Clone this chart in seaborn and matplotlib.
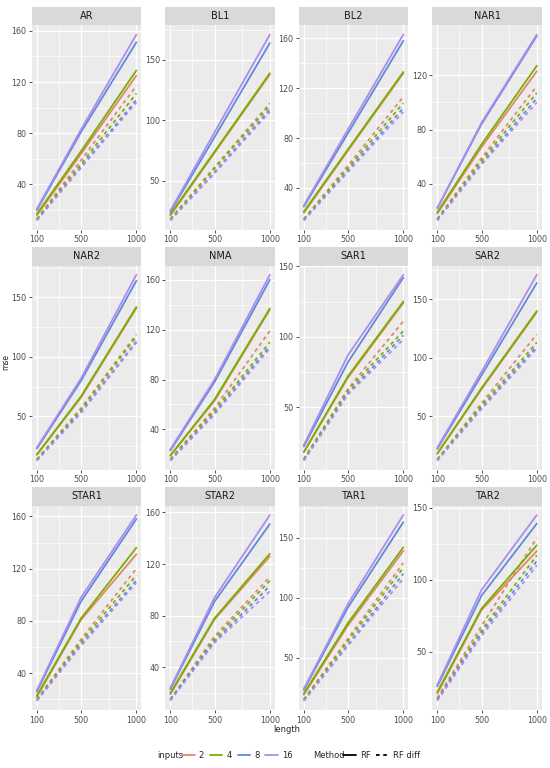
import matplotlib
matplotlib.use("Agg")
import matplotlib.pyplot as plt
from matplotlib.lines import Line2D
from matplotlib.patches import Rectangle
from matplotlib.ticker import MultipleLocator, FixedLocator
import seaborn as sns
import pandas as pd

# x values and categories
length = [100, 500, 1000]
inputs = ["2", "4", "8", "16"]
methods = ["RF", "RF diff"]
series = ["AR", "BL1", "BL2", "NAR1", "NAR2", "NMA",
          "SAR1", "SAR2", "STAR1", "STAR2", "TAR1", "TAR2"]

# mse, rows = inputs 2, 4, 8, 16
AR_RF = [[16, 64, 125], [17, 66, 129], [20, 81, 151], [21, 83, 157]]
AR_DIFF = [[13, 59, 117], [13, 56, 111], [12, 54, 106], [12, 53, 104]]
BL1_RF = [[21, 73, 138], [22, 74, 139], [24, 86, 164], [25, 90, 171]]
BL1_DIFF = [[18, 61, 114], [18, 60, 112], [17, 57, 109], [17, 56, 107]]
BL2_RF = [[20, 70, 132], [21, 71, 133], [25, 84, 158], [26, 87, 163]]
BL2_DIFF = [[15, 58, 113], [15, 56, 108], [14, 54, 104], [14, 53, 101]]
NAR1_RF = [[18, 67, 123], [19, 69, 127], [22, 84, 149], [22, 85, 150]]
NAR1_DIFF = [[14, 59, 112], [14, 57, 107], [13, 55, 103], [13, 54, 100]]
NAR2_RF = [[18, 66, 141], [18, 67, 142], [23, 80, 164], [24, 82, 169]]
NAR2_DIFF = [[14, 57, 119], [14, 56, 117], [13, 54, 113], [13, 53, 112]]
NMA_RF = [[19, 63, 136], [19, 64, 137], [23, 78, 160], [24, 80, 164]]
NMA_DIFF = [[16, 57, 119], [16, 55, 110], [15, 53, 107], [15, 52, 105]]
SAR1_RF = [[18, 71, 124], [18, 72, 125], [22, 82, 142], [23, 87, 144]]
SAR1_DIFF = [[13, 63, 111], [13, 62, 104], [12, 60, 101], [12, 59, 98]]
SAR2_RF = [[18, 73, 139], [18, 74, 140], [22, 85, 164], [23, 88, 171]]
SAR2_DIFF = [[13, 61, 120], [13, 59, 113], [12, 57, 110], [12, 56, 108]]
STAR1_RF = [[22, 81, 131], [23, 82, 136], [26, 95, 158], [27, 98, 161]]
STAR1_DIFF = [[20, 66, 120], [20, 64, 115], [19, 62, 111], [19, 61, 109]]
STAR2_RF = [[19, 77, 126], [20, 78, 128], [23, 91, 151], [24, 94, 158]]
STAR2_DIFF = [[15, 64, 110], [15, 62, 107], [15, 60, 103], [14, 59, 99]]
TAR1_RF = [[19, 77, 139], [20, 79, 142], [23, 92, 163], [24, 95, 169]]
TAR1_DIFF = [[15, 66, 129], [15, 64, 125], [14, 61, 120], [14, 60, 116]]
TAR2_RF = [[21, 79, 120], [22, 80, 124], [26, 89, 139], [27, 93, 145]]
TAR2_DIFF = [[18, 68, 129], [17, 65, 117], [17, 63, 113], [16, 61, 110]]

# y tick spacing per panel
y_step = [40, 50, 40, 40, 50, 40, 50, 50, 40, 40, 50, 50]

values = {
    "AR": (AR_RF, AR_DIFF), "BL1": (BL1_RF, BL1_DIFF), "BL2": (BL2_RF, BL2_DIFF),
    "NAR1": (NAR1_RF, NAR1_DIFF), "NAR2": (NAR2_RF, NAR2_DIFF), "NMA": (NMA_RF, NMA_DIFF),
    "SAR1": (SAR1_RF, SAR1_DIFF), "SAR2": (SAR2_RF, SAR2_DIFF),
    "STAR1": (STAR1_RF, STAR1_DIFF), "STAR2": (STAR2_RF, STAR2_DIFF),
    "TAR1": (TAR1_RF, TAR1_DIFF), "TAR2": (TAR2_RF, TAR2_DIFF),
}

rows = []
for s in series:
    for m, block in zip(methods, values[s]):
        for inp, ys in zip(inputs, block):
            for x, y in zip(length, ys):
                rows.append({"series": s, "Method": m, "inputs": inp, "length": x, "mse": y})
df = pd.DataFrame(rows)

palette = {"2": "#E0876A", "4": "#7CAE00", "8": "#5F8BD8", "16": "#AC8CEE"}
dashes = {"RF": "", "RF diff": (2, 2)}

sns.set_theme(style="darkgrid", rc={
    "axes.facecolor": "#EBEBEB",
    "grid.color": "white",
    "axes.edgecolor": "#EBEBEB",
})
plt.rcParams["font.family"] = ["DejaVu Sans"]

g = sns.relplot(data=df, x="length", y="mse", col="series", col_wrap=4,
                hue="inputs", hue_order=inputs, style="Method", style_order=methods,
                kind="line", palette=palette, dashes=dashes, linewidth=1.3,
                facet_kws=dict(sharey=False, sharex=False), legend=False,
                height=2, aspect=0.55)
fig = g.figure
fig.set_size_inches(5.5, 7.68)
fig.subplots_adjust(left=0.058, right=0.985, top=0.967, bottom=0.0755,
                    wspace=0.22, hspace=0.176)

strip_h = 0.092
for ax, name, step in zip(g.axes.flat, series, y_step):
    ax.set_title("")
    ax.set_xlabel("")
    ax.set_ylabel("")
    ax.set_xlim(55, 1045)
    ax.set_xticks(length)
    ax.xaxis.set_minor_locator(FixedLocator([300, 750]))
    ax.yaxis.set_major_locator(MultipleLocator(step))
    ax.yaxis.set_minor_locator(MultipleLocator(step / 2))
    ax.grid(which="major", color="white", linewidth=0.9)
    ax.grid(which="minor", color="white", linewidth=0.45)
    ax.tick_params(which="major", labelsize=5.8, labelcolor="#4D4D4D", length=2.5,
                   width=0.6, color="#333333", pad=1.5, bottom=True, left=True,
                   labelbottom=True)
    ax.tick_params(which="minor", length=0)
    for sp in ax.spines.values():
        sp.set_visible(False)
    ax.add_patch(Rectangle((0, 1), 1, strip_h, transform=ax.transAxes,
                           facecolor="#D9D9D9", edgecolor="none", clip_on=False))
    ax.text(0.5, 1 + strip_h / 2, name, transform=ax.transAxes, ha="center",
            va="center", fontsize=7, color="#1A1A1A")

fig.text(287 / 550, 1 - 729 / 768, "length", ha="center", va="center", fontsize=6)
fig.text(6 / 550, 1 - 362 / 768, "mse", ha="center", va="center", rotation=90, fontsize=5.5)

# legend along the bottom
leg_y = 1 - 755 / 768
fig.text(157 / 550, leg_y, "inputs", ha="left", va="center", fontsize=6)
h_in = [Line2D([], [], color=palette[i], linewidth=1.3) for i in inputs]
fig.legend(h_in, inputs, loc="center left", bbox_to_anchor=(182 / 550, leg_y),
           ncol=4, frameon=False, fontsize=6, handlelength=1.5,
           handletextpad=0.5, columnspacing=0.7, borderaxespad=0, borderpad=0)
fig.text(313 / 550, leg_y, "Method", ha="left", va="center", fontsize=6)
h_m = [Line2D([], [], color="black", linewidth=1.3, linestyle="-"),
       Line2D([], [], color="black", linewidth=1.3, linestyle=(0, (2, 2)))]
fig.legend(h_m, methods, loc="center left", bbox_to_anchor=(343 / 550, leg_y),
           ncol=2, frameon=False, fontsize=6, handlelength=1.5,
           handletextpad=0.5, columnspacing=0.7, borderaxespad=0, borderpad=0)

fig.savefig("out.png", dpi=100)
